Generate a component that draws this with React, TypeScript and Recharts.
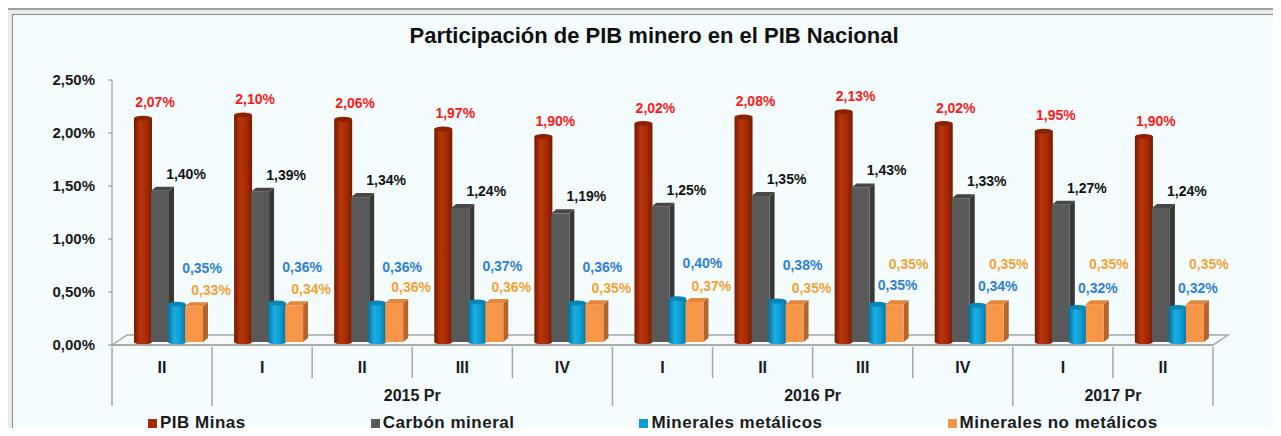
import React from "react";
import { BarChart, Bar, XAxis, YAxis, Legend, LabelList } from "recharts";

const quarters = ["II", "I", "II", "III", "IV", "I", "II", "III", "IV", "I", "II"];
const years = ["", "2015 Pr", "2015 Pr", "2015 Pr", "2015 Pr", "2016 Pr", "2016 Pr", "2016 Pr", "2016 Pr", "2017 Pr", "2017 Pr"];
const pibMinas = [2.07, 2.1, 2.06, 1.97, 1.9, 2.02, 2.08, 2.13, 2.02, 1.95, 1.9];
const carbonMineral = [1.4, 1.39, 1.34, 1.24, 1.19, 1.25, 1.35, 1.43, 1.33, 1.27, 1.24];
const metalicos = [0.35, 0.36, 0.36, 0.37, 0.36, 0.4, 0.38, 0.35, 0.34, 0.32, 0.32];
const noMetalicos = [0.33, 0.34, 0.36, 0.36, 0.35, 0.37, 0.35, 0.35, 0.35, 0.35, 0.35];
const yTicks = [0, 0.5, 1, 1.5, 2, 2.5];
const seriesNames = ["PIB Minas", "Carbón mineral", "Minerales metálicos", "Minerales no metálicos"];

const data = quarters.map((q, i) => ({
  quarter: q,
  year: years[i],
  pib: pibMinas[i],
  carbon: carbonMineral[i],
  met: metalicos[i],
  noMet: noMetalicos[i],
}));

const W = 1281;
const H = 436;
const MARGIN = { top: 80, right: 68, bottom: 5, left: 12 };
const Y_AXIS_W = 100;
const X_AXIS_H = 60;
const PLOT_LEFT = MARGIN.left + Y_AXIS_W;
const PLOT_W = W - PLOT_LEFT - MARGIN.right;
const BAND = PLOT_W / quarters.length;
const FONT = "'Liberation Sans', Arial, sans-serif";

// bars sit a little back on the 3d floor, so they come out a touch taller than the front axis
const SX = 6;
const SY = -3;
const PERSP = 1.02;
const DEPTH = 5;

const fmt = (v: number) => v.toFixed(2).replace(".", ",") + "%";
const idxOf = (x: number) => Math.max(0, Math.min(quarters.length - 1, Math.floor((x - PLOT_LEFT) / BAND)));

// front-face geometry of a bar after the 3d shift
const geom = (p: any) => {
  const h = Number(p.height) * PERSP;
  const bottom = Number(p.y) + Number(p.height) + SY;
  return { x: Number(p.x) + SX, y: bottom - h, w: Number(p.width), h };
};

const RED = { base: "#a62a02", dark: "#761a00", light: "#b8350c", top: "#8e2200" };
const BLUE = { base: "#0b9bd3", dark: "#06709c", light: "#19b0e4", top: "#0a86b6" };
const GRAY = { front: "#595959", side: "#383838", top: "#474747" };
const ORANGE = { front: "#f79646", side: "#b5652b", top: "#e3873c" };
const legendColors = [RED.base, GRAY.front, BLUE.base, ORANGE.front];

const cylinder = (c: typeof RED, id: string) => (p: any) => {
  const { x, y, w, h } = geom(p);
  if (!h) return null;
  const ry = 2.5;
  return (
    <g>
      <defs>
        <linearGradient id={id} x1="0" y1="0" x2="1" y2="0">
          <stop offset="0" stopColor={c.dark} />
          <stop offset="0.35" stopColor={c.light} />
          <stop offset="0.7" stopColor={c.base} />
          <stop offset="1" stopColor={c.dark} />
        </linearGradient>
      </defs>
      <ellipse cx={x + w / 2} cy={y + h} rx={w / 2} ry={ry} fill={`url(#${id})`} />
      <rect x={x} y={y} width={w} height={h} fill={`url(#${id})`} />
      <ellipse cx={x + w / 2} cy={y} rx={w / 2} ry={ry} fill={c.top} />
    </g>
  );
};

const box = (c: typeof GRAY) => (p: any) => {
  const { x, y, w, h } = geom(p);
  if (!h) return null;
  const d = DEPTH;
  const dy = 4;
  return (
    <g>
      <polygon points={`${x + w},${y} ${x + w + d},${y - dy} ${x + w + d},${y + h - dy} ${x + w},${y + h}`} fill={c.side} />
      <polygon points={`${x},${y} ${x + d},${y - dy} ${x + w + d},${y - dy} ${x + w},${y}`} fill={c.top} />
      <rect x={x} y={y} width={w} height={h} fill={c.front} />
    </g>
  );
};

// label offsets from the bar's top centre; from III 2016 on the two small labels swap places
const labelFor = (color: string, pos: (i: number) => [number, number]) => (p: any) => {
  const { x, y, w } = geom(p);
  const [dx, dy] = pos(idxOf(x - SX + w / 2));
  return (
    <text
      x={x + w / 2 + dx}
      y={y + dy}
      textAnchor="middle"
      dominantBaseline="central"
      fill={color}
      fontSize={14}
      fontWeight="bold"
      fontFamily={FONT}
    >
      {fmt(Number(p.value))}
    </text>
  );
};

const QuarterTick = (props: any) => {
  const x = Number(props.x);
  const y = Number(props.y);
  const i = idxOf(x);
  const lx = x - BAND / 2;
  const groupStart = i === 0 || years[i] !== years[i - 1];
  let groupLen = 1;
  while (i + groupLen < years.length && years[i + groupLen] === years[i]) groupLen++;
  const line = "#a6a6a6";
  return (
    <g>
      <line x1={lx} y1={y} x2={lx} y2={y + (groupStart ? 59 : 31)} stroke={line} strokeWidth={1.5} />
      {i === quarters.length - 1 && (
        <line x1={x + BAND / 2} y1={y} x2={x + BAND / 2} y2={y + 59} stroke={line} strokeWidth={1.5} />
      )}
      <text x={x} y={y + 20} textAnchor="middle" dominantBaseline="central" fontSize={16} fontWeight="bold" fill="#1a1a1a" fontFamily={FONT}>
        {quarters[i]}
      </text>
      {groupStart && years[i] && (
        <text x={lx + (groupLen * BAND) / 2} y={y + 48} textAnchor="middle" dominantBaseline="central" fontSize={16} fontWeight="bold" fill="#1a1a1a" fontFamily={FONT}>
          {years[i]}
        </text>
      )}
    </g>
  );
};

const LegendBox = () => (
  <div style={{ display: "flex", alignItems: "center", paddingLeft: 148, paddingTop: 8, height: 20, fontFamily: FONT }}>
    {seriesNames.map((n, i) => (
      <div key={n} style={{ display: "flex", alignItems: "center", marginRight: 125 }}>
        <span style={{ width: 9, height: 9, background: legendColors[i], marginRight: 3, display: "inline-block" }} />
        <span style={{ fontSize: 17, fontWeight: "bold", letterSpacing: 0.5, color: "#1a1a1a", whiteSpace: "nowrap" }}>{n}</span>
      </div>
    ))}
  </div>
);

export default function App() {
  const plotBottom = 345;
  return (
    <div style={{ position: "relative", width: W, height: H, margin: -8, background: "#fff", overflow: "hidden", fontFamily: FONT }}>
      <div style={{ position: "absolute", left: 4, top: 8, width: 1276, height: 428, boxSizing: "border-box", border: "2px solid #a0a0a0", borderLeftColor: "#606060", background: "#e8eced" }} />
      <div style={{ position: "absolute", left: 12, top: 14, width: 1265, height: 420, boxSizing: "border-box", border: "1px solid #8a8a8a", background: "#f4fcfe" }} />
      <div style={{ position: "absolute", left: 0, top: 23, width: 1308, textAlign: "center", fontSize: 22, fontWeight: "bold", color: "#111", lineHeight: "26px" }}>
        Participación de PIB minero en el PIB Nacional
      </div>
      <svg width={W} height={H} style={{ position: "absolute", left: 0, top: 0 }}>
        <polygon
          points={`${PLOT_LEFT},${plotBottom} ${PLOT_LEFT + 15},${plotBottom - 10} ${PLOT_LEFT + PLOT_W + 15},${plotBottom - 10} ${PLOT_LEFT + PLOT_W},${plotBottom}`}
          fill="#f8fbfc"
          stroke="#a6a6a6"
          strokeWidth={1.5}
        />
      </svg>
      <div style={{ position: "absolute", left: 0, top: 0 }}>
        <BarChart width={W} height={H} data={data} margin={MARGIN} barSize={18} barGap={-1}>
          <XAxis
            dataKey="quarter"
            height={X_AXIS_H}
            interval={0}
            tickSize={0}
            tickLine={false}
            axisLine={{ stroke: "#a6a6a6", strokeWidth: 1.5 }}
            tick={<QuarterTick />}
          />
          <YAxis
            width={Y_AXIS_W}
            domain={[0, 2.5]}
            ticks={yTicks}
            tickFormatter={fmt}
            tickSize={4}
            tickMargin={13}
            axisLine={{ stroke: "#8c8c8c" }}
            tickLine={{ stroke: "#8c8c8c" }}
            tick={{ fontSize: 15, fontWeight: "bold", fill: "#1a1a1a", fontFamily: FONT }}
          />
          <Legend verticalAlign="bottom" align="left" wrapperStyle={{ left: 0, width: W, height: 26 }} content={<LegendBox />} />
          <Bar dataKey="pib" name={seriesNames[0]} fill={RED.base} shape={cylinder(RED, "cylRed")} isAnimationActive={false}>
            <LabelList dataKey="pib" content={labelFor("#ff1a1a", () => [12, -16])} />
          </Bar>
          <Bar dataKey="carbon" name={seriesNames[1]} fill={GRAY.front} shape={box(GRAY)} isAnimationActive={false}>
            <LabelList dataKey="carbon" content={labelFor("#111111", () => [26, -17])} />
          </Bar>
          <Bar dataKey="met" name={seriesNames[2]} fill={BLUE.base} shape={cylinder(BLUE, "cylBlue")} isAnimationActive={false}>
            <LabelList dataKey="met" content={labelFor("#2f7fd8", (i) => (i >= 7 ? [20, -19] : [25, -36]))} />
          </Bar>
          <Bar dataKey="noMet" name={seriesNames[3]} fill={ORANGE.front} shape={box(ORANGE)} isAnimationActive={false}>
            <LabelList dataKey="noMet" content={labelFor("#f7a233", (i) => (i >= 7 ? [14, -40] : [17, -16]))} />
          </Bar>
        </BarChart>
      </div>
    </div>
  );
}
